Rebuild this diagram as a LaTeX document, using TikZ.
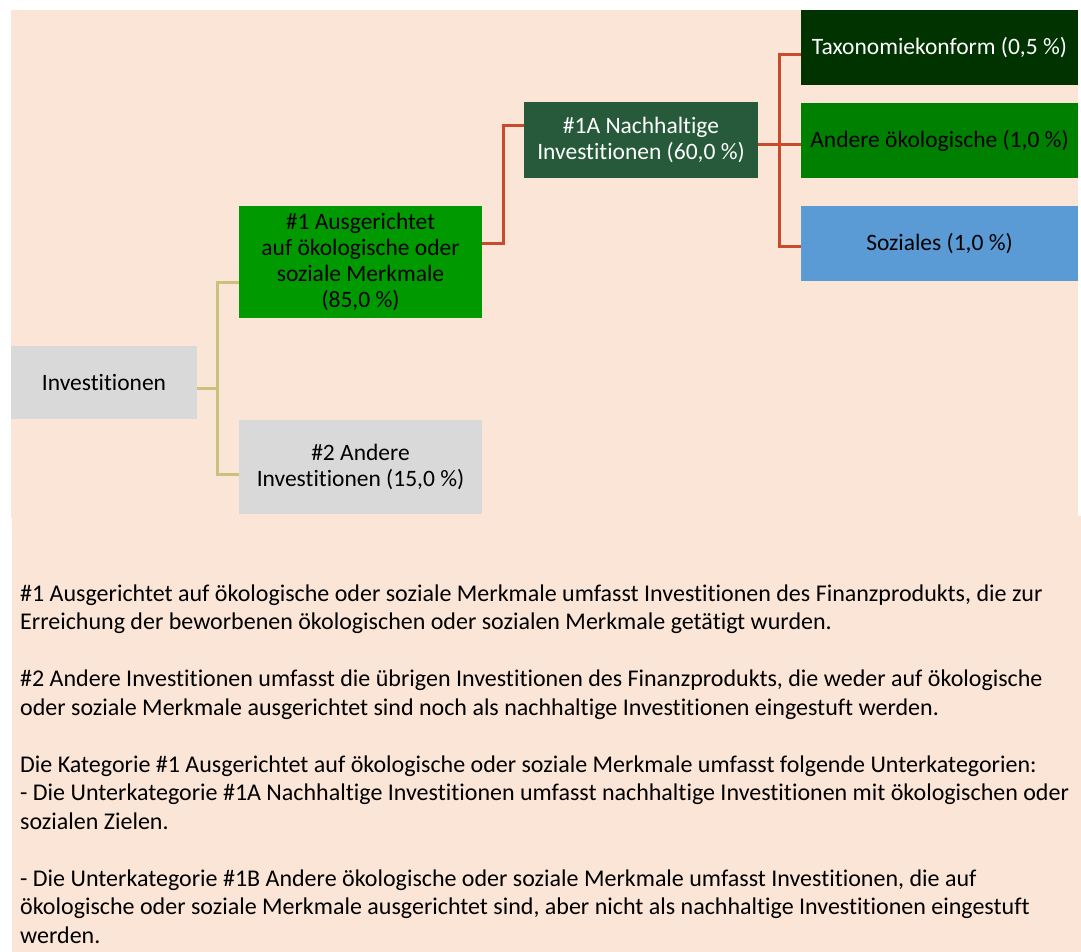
\documentclass[tikz,border=0pt]{standalone}
\usepackage{fontspec}
\setmainfont{Carlito}[Ligatures=NoCommon]
\definecolor{pfirsich}{HTML}{FBE5D6}
\definecolor{grau}{HTML}{D9D9D9}
\definecolor{gruen}{HTML}{009A00}
\definecolor{dunkelgruen}{HTML}{265A3A}
\definecolor{tiefgruen}{HTML}{003300}
\definecolor{mittelgruen}{HTML}{008000}
\definecolor{blau}{HTML}{5B9BD5}
\definecolor{oliv}{HTML}{C9C27C}
\definecolor{rot}{HTML}{C84B2B}
\tikzset{
	box/.style={rectangle, inner sep=0pt, align=center, font=\fontsize{23.5}{26}\selectfont},
	graubox/.style={box, fill=grau, text=black},
	olivlinie/.style={draw=oliv, line width=3pt},
	rotlinie/.style={draw=rot, line width=3pt},
}
\begin{document}
\begin{tikzpicture}[x=1pt, y=-1pt]
	\useasboundingbox (0,0) rectangle (1081,952);
	\fill[pfirsich] (11,10) rectangle (1078,518);
	\fill[pfirsich] (12,516) rectangle (1081,952);
	% Baum
	\node[graubox, minimum width=186pt, minimum height=73pt] (inv) at (104,382.5) {Investitionen};
	\node[box, fill=gruen, text=black, minimum width=243pt, minimum height=112.5pt] (a1) at (360.5,262) {\#1 Ausgerichtet\\auf ökologische oder\\soziale Merkmale\\(85,0 \%)};
	\node[graubox, minimum width=243pt, minimum height=94.5pt] (a2) at (360.5,467) {\#2 Andere\\Investitionen (15,0 \%)};
	\node[box, fill=dunkelgruen, text=white, minimum width=234pt, minimum height=76pt] (n1a) at (641,140) {\#1A Nachhaltige\\Investitionen (60,0 \%)};
	\node[box, fill=tiefgruen, text=white, minimum width=277pt, minimum height=75pt] (tax) at (939.5,47.5) {Taxonomiekonform (0,5 \%)};
	\node[box, fill=mittelgruen, text=black, minimum width=277pt, minimum height=75pt] (and) at (939.5,140.5) {Andere ökologische (1,0 \%)};
	\node[box, fill=blau, text=black, minimum width=277pt, minimum height=75pt] (soz) at (939.5,243.5) {Soziales (1,0 \%)};
	% Verbindungen
	\draw[olivlinie] ([yshift=-5.5pt]inv.east) -- ++(20.5,0) coordinate (ok);
	\draw[olivlinie] (ok) |- ([yshift=-20pt]a1.west);
	\draw[olivlinie] (ok) |- ([yshift=-7pt]a2.west);
	\draw[rotlinie] ([yshift=19pt]a1.east) -- ++(21,0) |- ([yshift=14pt]n1a.west);
	\draw[rotlinie] ([yshift=-5pt]n1a.east) -- ++(21,0) coordinate (rk);
	\draw[rotlinie] (rk) |- ([yshift=-7.5pt]tax.west);
	\draw[rotlinie] (rk) |- ([yshift=-4.5pt]and.west);
	\draw[rotlinie] (rk) |- ([yshift=-2.5pt]soz.west);
	% Erlaeuterungen
	\node[anchor=north west, inner sep=0pt, align=left, font=\fontsize{24}{28.5}\selectfont] (txt) at (20,584.5) {\#1 Ausgerichtet auf ökologische oder soziale Merkmale umfasst Investitionen des Finanzprodukts, die zur\\
Erreichung der beworbenen ökologischen oder sozialen Merkmale getätigt wurden.\\[28.5pt]
\#2 Andere Investitionen umfasst die übrigen Investitionen des Finanzprodukts, die weder auf ökologische\\
oder soziale Merkmale ausgerichtet sind noch als nachhaltige Investitionen eingestuft werden.\\[28.5pt]
Die Kategorie \#1 Ausgerichtet auf ökologische oder soziale Merkmale umfasst folgende Unterkategorien:\\
- Die Unterkategorie \#1A Nachhaltige Investitionen umfasst nachhaltige Investitionen mit ökologischen oder\\
sozialen Zielen.\\[28.5pt]
- Die Unterkategorie \#1B Andere ökologische oder soziale Merkmale umfasst Investitionen, die auf\\
ökologische oder soziale Merkmale ausgerichtet sind, aber nicht als nachhaltige Investitionen eingestuft\\
werden.};
\end{tikzpicture}
\end{document}
